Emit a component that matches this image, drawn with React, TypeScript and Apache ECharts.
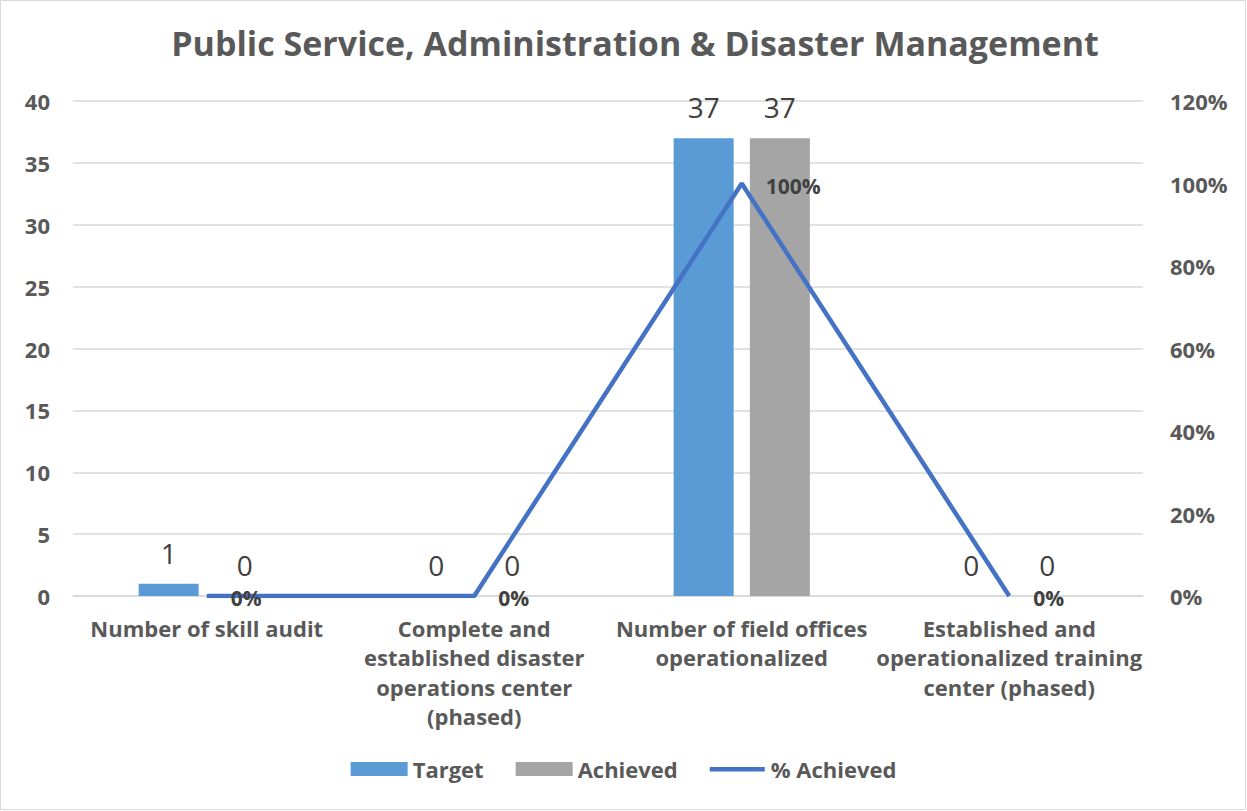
import React, { useEffect, useRef } from "react";
import * as echarts from "echarts";

const categories = [
  "Number of skill audit",
  "Complete and\nestablished disaster\noperations center\n(phased)",
  "Number of field offices\noperationalized",
  "Established and\noperationalized training\ncenter (phased)",
];
const targetValues = [1, 0, 37, 0];
const achievedValues = [0, 0, 37, 0];
const pctAchieved = [0, 0, 1, 0];
const leftTicks = { min: 0, max: 40, interval: 5 };
const rightTicks = { min: 0, max: 1.2, interval: 0.2 };

const FONT = "Open Sans";
const GRAY = "#595959";
const LINE_ICON = "path://M0,0 L0,0 M0,5 L55,5 L55,9.5 L0,9.5 Z M55,14 L55,14";

export default function App() {
  const ref = useRef<HTMLDivElement>(null);
  useEffect(() => {
    const chart = echarts.init(ref.current!, null, { renderer: "svg" });
    chart.setOption({
      animation: false,
      backgroundColor: "#ffffff",
      textStyle: { fontFamily: FONT },
      title: {
        text: "Public Service, Administration & Disaster Management",
        top: 21,
        left: 630,
        textAlign: "center",
        textStyle: { fontFamily: FONT, fontSize: 34, fontWeight: "bold", color: GRAY },
      },
      graphic: [
        {
          type: "rect",
          shape: { x: 0.5, y: 0.5, width: 1245, height: 809 },
          style: { fill: "none", stroke: "#d9d9d9", lineWidth: 1 },
          silent: true,
        },
      ],
      grid: { left: 73, right: 104, top: 101, bottom: 215, containLabel: false },
      legend: {
        bottom: 26,
        left: "center",
        itemWidth: 57,
        itemHeight: 14,
        itemGap: 32,
        itemTextGap: 7,
        textStyle: { fontFamily: FONT, fontSize: 22, fontWeight: "bold", color: GRAY },
        data: [
          { name: "Target", icon: "rect" },
          { name: "Achieved", icon: "rect" },
          { name: "% Achieved", icon: LINE_ICON },
        ],
      },
      xAxis: {
        type: "category",
        data: categories,
        axisLine: { lineStyle: { color: "#d9d9d9", width: 1.5 } },
        axisTick: { show: false },
        axisLabel: {
          interval: 0,
          fontFamily: FONT,
          fontSize: 22,
          fontWeight: "bold",
          color: GRAY,
          lineHeight: 29.5,
          margin: 17,
        },
      },
      yAxis: [
        {
          type: "value",
          min: leftTicks.min,
          max: leftTicks.max,
          interval: leftTicks.interval,
          axisLine: { show: false },
          axisTick: { show: false },
          splitLine: { lineStyle: { color: "#d9d9d9", width: 1.5 } },
          axisLabel: { fontFamily: FONT, fontSize: 22, fontWeight: "bold", color: GRAY, margin: 23 },
        },
        {
          type: "value",
          min: rightTicks.min,
          max: rightTicks.max,
          interval: rightTicks.interval,
          axisLine: { show: false },
          axisTick: { show: false },
          splitLine: { show: false },
          axisLabel: {
            fontFamily: FONT,
            fontSize: 22,
            fontWeight: "bold",
            color: GRAY,
            margin: 27,
            formatter: (v: number) => Math.round(v * 100) + "%",
          },
        },
      ],
      series: [
        {
          name: "Target",
          type: "bar",
          data: targetValues,
          barWidth: 60,
          barGap: "27%",
          itemStyle: { color: "#5B9BD5" },
          label: {
            show: true,
            position: "top",
            distance: 16,
            fontFamily: FONT,
            fontSize: 28,
            lineHeight: 30,
            color: "#404040",
          },
        },
        {
          name: "Achieved",
          type: "bar",
          data: achievedValues,
          barWidth: 60,
          itemStyle: { color: "#A5A5A5" },
          label: {
            show: true,
            position: "top",
            distance: 16,
            fontFamily: FONT,
            fontSize: 28,
            lineHeight: 30,
            color: "#404040",
          },
        },
        {
          name: "% Achieved",
          type: "line",
          yAxisIndex: 1,
          data: pctAchieved,
          symbol: "circle",
          symbolSize: 0,
          showSymbol: true,
          lineStyle: { color: "#4472C4", width: 4.5 },
          itemStyle: { color: "#4472C4" },
          label: {
            show: true,
            position: "right",
            distance: 24,
            offset: [0, 2],
            fontFamily: FONT,
            fontSize: 21,
            lineHeight: 20,
            fontWeight: "bold",
            color: "#404040",
            formatter: (p: any) => Math.round(p.value * 100) + "%",
          },
        },
      ],
    });
    return () => chart.dispose();
  }, []);
  return (
    <div
      ref={ref}
      style={{ position: "fixed", left: 0, top: 0, width: 1247, height: 811 }}
    />
  );
}
